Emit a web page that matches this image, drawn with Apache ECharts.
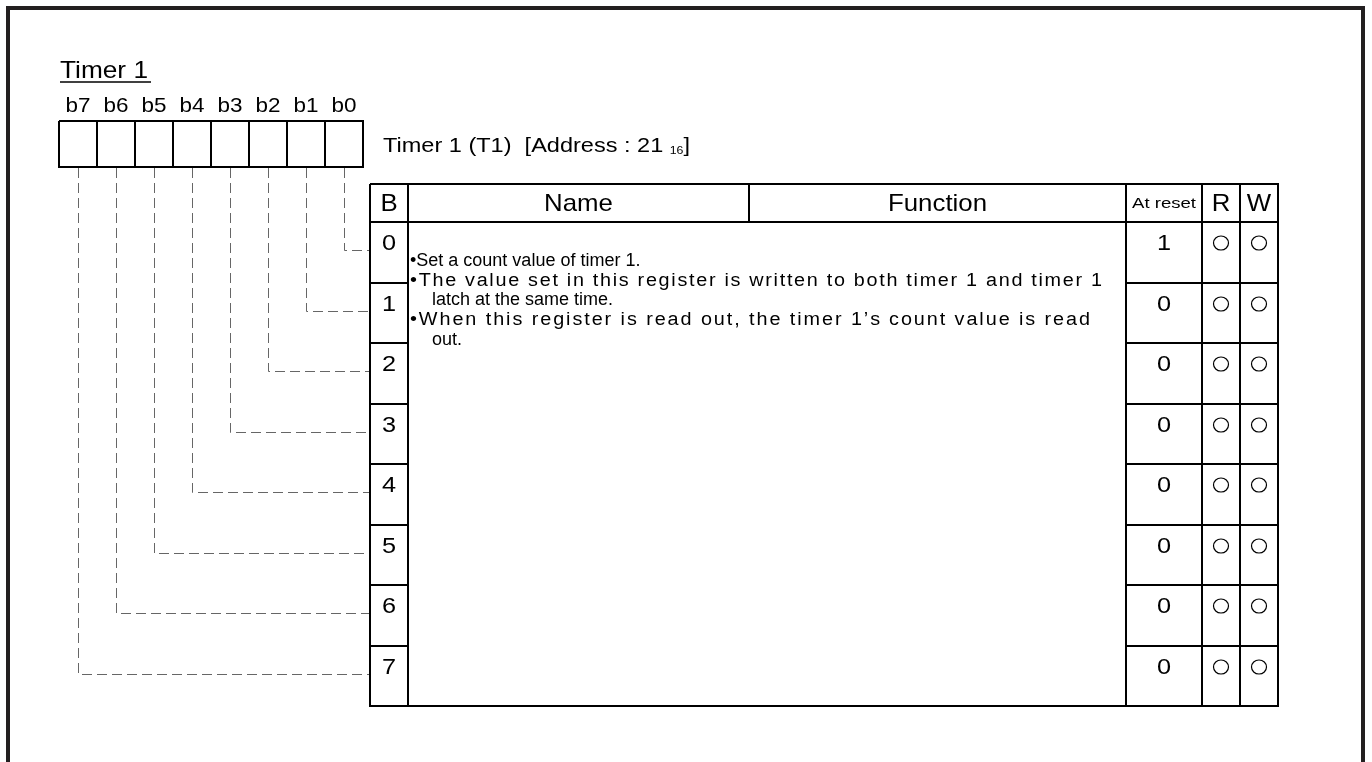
<!DOCTYPE html>
<html><head><meta charset="utf-8">
<script src="https://cdn.jsdelivr.net/npm/echarts@6/dist/echarts.min.js"></script>
<style>html,body{margin:0;padding:0;background:#fff}#c{width:1372px;height:762px}</style>
</head><body><div id="c"></div>
<script>
// ---- data ----
const titleText = 'Timer 1';
const bitLabels = ['b7', 'b6', 'b5', 'b4', 'b3', 'b2', 'b1', 'b0'];
const registerLabel = 'Timer 1 (T1)  [Address : 21';
const addressBase = '16';
const headers = ['B', 'Name', 'Function', 'At reset', 'R', 'W'];
const bitNumbers = ['0', '1', '2', '3', '4', '5', '6', '7'];
const resetValues = ['1', '0', '0', '0', '0', '0', '0', '0'];
const readable = [true, true, true, true, true, true, true, true];
const writable = [true, true, true, true, true, true, true, true];
const functionLines = [
  '\u2022Set a count value of timer 1.',
  '\u2022The value set in this register is written to both timer 1 and timer 1',
  'latch at the same time.',
  '\u2022When this register is read out, the timer 1\u2019s count value is read',
  'out.'
];

// ---- layout / style ----
const FONT = '"Liberation Sans", Arial, sans-serif';
const L = {
  frame: {left: 8, top: 8, right: 1363, bottom: 780, width: 4, color: '#231f20'},
  title: {x: 60, y: 71, size: 24, width: 88, ulY: 82, ulX1: 151},
  reg: {x0: 59, cellW: 38, y0: 121, y1: 167, labelY: 106, labelSize: 21, labelW: 25},
  regLabel: {x: 383, y: 146, size: 21, sub: 11, width: 307},
  table: {cols: [370, 408, 749, 1126, 1202, 1240, 1278], top: 184, head: 222, rowH: 60.5,
          headSize: 24, headRef: 'Function', headRefW: 99, smallHead: 15, smallHeadW: 64,
          numSize: 22, numSX: 1.15, numDy: 22, circDy: 21, rx: 7.5, ry: 7},
  // body lines: start x; justified right edge (null = natural, last line of a paragraph)
  func: {size: 18, sx: 1.1, y0: 261, step: 19.7,
         x: [410, 410, 432, 410, 432], right: [null, 1102, null, 1090, null]},
  dash: {dy: 28, color: '#666', dash: [10, 5]}
};

const mctx = document.createElement('canvas').getContext('2d');
function measure(s, size) { mctx.font = size + 'px ' + FONT; return mctx.measureText(s).width; }

function text(api, x, y, s, size, align, sx) {
  const p = api.coord([x, y]);
  return {
    type: 'text', x: p[0], y: p[1], scaleX: sx || 1, silent: true,
    style: {text: s, fill: '#000', font: size + 'px ' + FONT, align: align || 'center', verticalAlign: 'middle'}
  };
}
// justified line: glyphs slightly widened, remaining space spread between characters
function spaced(api, x, y, s, size, right, sx) {
  const chars = Array.from(s);
  const extra = (right - x - measure(s, size) * sx) / (chars.length - 1);
  const ch = [];
  let prefix = '';
  chars.forEach((c, i) => {
    if (c !== ' ') ch.push(text(api, x + measure(prefix, size) * sx + i * extra, y, c, size, 'left', sx));
    prefix += c;
  });
  return {type: 'group', children: ch};
}
function line(api, pts, w, color, dash) {
  return {type: 'polyline', silent: true,
    shape: {points: pts.map(q => api.coord(q))},
    style: {stroke: color || '#000', lineWidth: w, fill: null, lineDash: dash || null, lineJoin: 'miter', lineCap: 'butt'}};
}

const T = L.table;
const rowTop = i => Math.round(T.head + i * T.rowH);

function renderStatic(params, api) {
  const ch = [];
  const F = L.frame;
  ch.push(line(api, [[F.left, F.bottom], [F.left, F.top], [F.right, F.top], [F.right, F.bottom]], F.width, F.color));
  ch.push(text(api, L.title.x, L.title.y, titleText, L.title.size, 'left', L.title.width / measure(titleText, L.title.size)));
  ch.push(line(api, [[L.title.x, L.title.ulY], [L.title.ulX1, L.title.ulY]], 1.5));
  const R = L.reg;
  bitLabels.forEach((b, k) => {
    const x0 = R.x0 + k * R.cellW;
    ch.push(line(api, [[x0, R.y0], [x0 + R.cellW, R.y0], [x0 + R.cellW, R.y1], [x0, R.y1], [x0, R.y0]], 2));
    ch.push(text(api, x0 + R.cellW / 2, R.labelY, b, R.labelSize, 'center', R.labelW / measure(b, R.labelSize)));
  });
  const G = L.regLabel;
  const natural = measure(registerLabel + ' ', G.size) + measure(addressBase, G.sub) + measure(']', G.size);
  const p = api.coord([G.x, G.y]);
  ch.push({type: 'text', x: p[0], y: p[1], scaleX: G.width / natural, silent: true,
    style: {text: '{a|' + registerLabel + ' }{s|' + addressBase + '}{a|]}', align: 'left', verticalAlign: 'middle',
      rich: {a: {font: G.size + 'px ' + FONT, fill: '#000', verticalAlign: 'bottom'},
             s: {font: G.sub + 'px ' + FONT, fill: '#000', verticalAlign: 'bottom'}}}});
  const c = T.cols, bottom = rowTop(bitNumbers.length);
  ch.push(line(api, [[c[0], T.top], [c[6], T.top], [c[6], bottom], [c[0], bottom], [c[0], T.top]], 2));
  ch.push(line(api, [[c[0], T.head], [c[6], T.head]], 2));
  ch.push(line(api, [[c[1], T.top], [c[1], bottom]], 2));
  ch.push(line(api, [[c[2], T.top], [c[2], T.head]], 2));
  [3, 4, 5].forEach(k => ch.push(line(api, [[c[k], T.top], [c[k], bottom]], 2)));
  const hsx = T.headRefW / measure(T.headRef, T.headSize);
  const ssx = T.smallHeadW / measure(headers[3], T.smallHead);
  headers.forEach((h, k) => {
    const small = k === 3;
    ch.push(text(api, (c[k] + c[k + 1]) / 2, (T.top + T.head) / 2 + 1, h,
      small ? T.smallHead : T.headSize, 'center', small ? ssx : hsx));
  });
  return {type: 'group', children: ch};
}

function renderRow(params, api) {
  const i = api.value(0);
  const c = T.cols, top = rowTop(i), ch = [];
  if (i > 0) {
    ch.push(line(api, [[c[0], top], [c[1], top]], 2));
    ch.push(line(api, [[c[3], top], [c[6], top]], 2));
  }
  ch.push(text(api, (c[0] + c[1]) / 2, top + T.numDy, bitNumbers[i], T.numSize, 'center', T.numSX));
  ch.push(text(api, (c[3] + c[4]) / 2, top + T.numDy, resetValues[i], T.numSize, 'center', T.numSX));
  const circ = (x) => {
    const q = api.coord([x, top + T.circDy]);
    return {type: 'ellipse', silent: true, shape: {cx: q[0], cy: q[1], rx: T.rx, ry: T.ry},
      style: {fill: null, stroke: '#000', lineWidth: 1.2}};
  };
  if (readable[i]) ch.push(circ((c[4] + c[5]) / 2));
  if (writable[i]) ch.push(circ((c[5] + c[6]) / 2));
  const k = bitLabels.indexOf('b' + bitNumbers[i]);
  const xv = L.reg.x0 + k * L.reg.cellW + L.reg.cellW / 2 + 0.5;
  const yh = top + L.dash.dy + 0.5;
  ch.push(line(api, [[xv, L.reg.y1 + 1], [xv, yh], [c[0] - 1, yh]], 1, L.dash.color, L.dash.dash));
  return {type: 'group', children: ch};
}

function renderFunc(params, api) {
  const i = api.value(0);
  const Fn = L.func, y = Fn.y0 + i * Fn.step;
  if (Fn.right[i] != null) return spaced(api, Fn.x[i], y, functionLines[i], Fn.size, Fn.right[i], Fn.sx);
  return text(api, Fn.x[i], y, functionLines[i], Fn.size, 'left', 1);
}

const chart = echarts.init(document.getElementById('c'), null, {renderer: 'canvas'});
chart.setOption({
  animation: false,
  backgroundColor: '#fff',
  grid: {left: 0, right: 0, top: 0, bottom: 0},
  xAxis: {type: 'value', min: 0, max: 1372, show: false},
  yAxis: {type: 'value', min: 0, max: 762, inverse: true, show: false},
  series: [
    {type: 'custom', renderItem: renderStatic, data: [[0]], clip: false},
    {type: 'custom', renderItem: renderRow, data: bitNumbers.map((b, i) => [i]), clip: false},
    {type: 'custom', renderItem: renderFunc, data: functionLines.map((s, i) => [i]), clip: false}
  ]
});
</script></body></html>
